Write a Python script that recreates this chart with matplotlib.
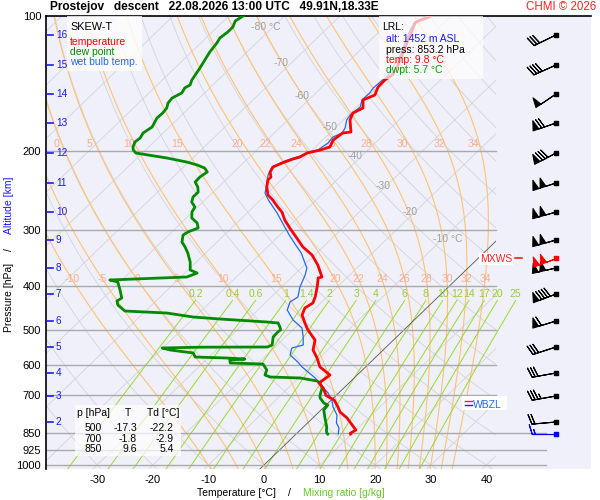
import numpy as np
import matplotlib
matplotlib.use("Agg")
import matplotlib.pyplot as plt
from matplotlib.patches import Rectangle
from matplotlib.lines import Line2D
from matplotlib.ticker import NullLocator

plt.rcParams['font.family'] = ['Liberation Sans', 'DejaVu Sans']

# ---------------- data ----------------
temp_p = [100.0, 101.0, 102.6, 103.6, 106.4, 114.9, 125.3, 129.9, 135.3, 138.9,
          144.0, 150.0, 153.8, 160.3, 164.5, 170.5, 181.3, 182.2, 188.9, 195.8,
          198.9, 201.9, 206.1, 208.2, 212.5, 216.9, 222.5, 228.4, 231.9, 240.3,
          250.4, 256.9, 266.3, 273.3, 284.7, 296.7, 312.2, 327.0, 340.6, 358.5,
          381.3, 383.3, 401.4, 422.4, 435.7, 447.0, 463.3, 482.8, 500.0, 526.8,
          554.5, 577.6, 604.9, 630.3, 646.7, 656.7, 673.7, 700.0, 716.5, 742.7,
          762.0, 786.0, 814.5, 835.7, 850.0, 853.2]
temp_c = [-53.6, -54.0, -55.0, -55.2, -54.6, -52.9, -51.0, -50.2, -49.6, -50.0,
          -49.9, -49.0, -50.2, -48.7, -49.6, -48.8, -46.4, -47.7, -48.1, -47.4,
          -48.6, -50.4, -50.9, -51.8, -53.0, -53.9, -53.5, -52.4, -52.4, -51.3,
          -49.6, -47.8, -45.6, -43.9, -41.9, -39.5, -36.4, -33.6, -30.5, -27.6,
          -24.6, -25.1, -23.6, -22.1, -21.4, -21.9, -21.1, -19.1, -17.3, -14.1,
          -12.6, -10.4, -8.2, -4.9, -5.2, -5.4, -3.7, -1.8, 0.5, 2.5,
          3.8, 6.2, 8.4, 10.0, 9.6, 9.8]

dwpt_p = [100.0, 101.0, 102.6, 105.8, 108.6, 111.9, 114.9, 120.3, 125.3, 130.5,
          138.9, 142.4, 144.6, 148.4, 152.3, 156.3, 160.3, 164.5, 168.7, 176.7,
          182.2, 186.9, 190.8, 195.8, 198.8, 201.9, 207.1, 211.5, 214.7, 218.1,
          222.5, 228.4, 234.3, 240.4, 246.6, 253.0, 259.6, 266.3, 273.2, 281.8,
          289.1, 296.6, 302.8, 307.5, 318.7, 327.0, 337.2, 353.1, 367.9, 373.6,
          381.3, 383.3, 387.2, 391.2, 407.6, 424.7, 431.3, 440.2, 454.0, 458.7,
          468.2, 473.0, 480.3, 482.8, 495.3, 500.0, 505.6, 518.7, 540.4, 546.0,
          546.5, 548.8, 554.5, 563.0, 574.8, 577.7, 580.7, 583.6, 592.7, 595.8,
          614.4, 630.3, 636.8, 640.1, 650.0, 656.7, 673.8, 700.0, 709.2, 727.6,
          735.1, 754.2, 785.8, 822.9, 838.0, 850.0, 853.2]
dwpt_c = [-87.4, -87.6, -87.9, -87.2, -87.2, -87.5, -87.1, -86.7, -86.1, -85.5,
          -84.7, -84.1, -84.5, -84.1, -84.9, -84.7, -84.0, -83.8, -83.9, -83.1,
          -83.6, -83.2, -83.4, -82.8, -82.2, -81.2, -74.7, -70.3, -67.9, -66.0,
          -64.8, -65.2, -65.1, -63.7, -62.7, -62.7, -62.0, -60.5, -60.1, -59.0,
          -57.1, -56.0, -57.1, -57.4, -56.3, -54.8, -53.2, -51.1, -49.6, -47.8,
          -48.9, -53.5, -62.2, -60.4, -58.5, -56.7, -57.0, -56.1, -53.7, -45.8,
          -40.3, -35.1, -26.1, -23.9, -22.6, -22.2, -22.3, -22.2, -20.9, -21.4,
          -33.5, -40.1, -38.3, -33.6, -32.5, -26.6, -23.2, -25.7, -25.1, -19.0,
          -17.2, -16.6, -15.3, -9.7, -6.1, -5.2, -3.9, -2.9, -2.4, -0.8,
          0.3, 0.5, 2.2, 4.2, 4.8, 5.4, 5.7]

wetb_p = [100.0, 103.1, 107.4, 122.1, 136.7, 138.9, 144.6, 148.4, 153.8, 159.4,
          166.1, 170.5, 177.6, 182.2, 186.0, 191.8, 198.8, 200.9, 205.0, 210.4,
          216.9, 226.0, 235.5, 247.8, 256.9, 274.6, 292.0, 307.5, 320.3, 337.2,
          364.1, 377.4, 401.4, 422.5, 433.5, 451.6, 475.4, 495.3, 518.7, 540.4,
          548.8, 568.9, 589.7, 605.0, 620.7, 640.1, 666.9, 691.3, 716.5, 742.7,
          773.8, 806.2, 827.2, 848.7, 853.2]
wetb_c = [-54.0, -55.4, -54.8, -51.9, -50.2, -50.4, -50.6, -50.3, -50.4, -49.4,
          -49.7, -49.4, -48.2, -47.8, -48.7, -48.5, -49.0, -50.2, -51.1, -52.9,
          -54.1, -53.3, -52.0, -50.5, -48.6, -44.6, -41.2, -38.3, -35.9, -32.8,
          -29.0, -28.0, -26.7, -25.2, -25.7, -24.7, -21.8, -18.7, -16.8, -15.3,
          -16.8, -15.8, -13.1, -11.4, -9.4, -7.0, -4.3, -1.9, 0.1, 1.6,
          3.8, 5.2, 6.6, 7.4, 7.6]

alt_km = [2, 3, 4, 5, 6, 7, 8, 9, 10, 11, 12, 13, 14, 15, 16]
alt_p = [802.1, 702.0, 623.9, 546.0, 477.9, 416.1, 364.1, 315.4, 273.3, 235.5,
         201.9, 173.1, 149.2, 128.6, 110.2]
wind_dir = [265, 260, 260, 252, 253, 249, 257, 254, 254, 252, 242, 251, 236, 246, 244]
wind_kt = [20, 35, 30, 30, 60, 90, 100, 100, 100, 100, 80, 70, 50, 40, 30]

mxws_p, mxws_dir, mxws_kt = 346.0, 249, 100
sfc_p, sfc_dir, sfc_kt = 853.2, 270, 15

pressure_ticks = [100, 200, 300, 400, 500, 600, 700, 850, 925, 1000]
temp_ticks = [-30, -20, -10, 0, 10, 20, 30, 40]
isotherm_lbl = [-80, -70, -60, -50, -40, -30, -20, -10]
isotherm_lbl_p = [105.8, 127.3, 150.7, 176.7, 205.0, 239.1, 273.2, 313.8]
theta_w = [-10, -5, 0, 5, 10, 15, 20, 22, 24, 26, 28, 30, 32, 34]
mix_ratio = [0.2, 0.4, 0.6, 1, 1.4, 2, 3, 4, 6, 8, 10, 12, 14, 17, 20, 25]
mix_lbl = ['0.2', '0.4', '0.6', '1', '1.4', '2', '3', '4', '6', '8', '10', '12', '14', '17', '20', '25']

tbl_p = ['500', '700', '850']
tbl_t = ['-17.3', '-1.8', '9.6']
tbl_td = ['-22.2', '-2.9', '5.4']

# ---------------- geometry ----------------
SKEW = 36.33          # degC of x-shift per unit ln(1000/p)
PX_PER_C = 5.56       # pixel width of one degree
X0, X1 = -39.21, 58.81
P_BOT, P_TOP = 1020.7, 100.0
MAIN_FRAC = (496 - 46) / 545.0
EXT_FRAC = (546 - 46) / 545.0
X_MAIN = X0 + MAIN_FRAC * (X1 - X0)


def skx(t, p):
    return np.asarray(t, float) + SKEW * np.log(1000.0 / np.asarray(p, float))


fig = plt.figure(figsize=(6, 5), dpi=100)
ax = fig.add_axes([46 / 600, 31 / 500, 545 / 600, 453 / 500])
ax.set_facecolor('#f0f0fb')
ax.set_yscale('log')
ax.set_xlim(X0, X1)
ax.set_ylim(P_BOT, P_TOP)
for s in ['right', 'bottom']:
    ax.spines[s].set_visible(False)
ax.spines['left'].set_linewidth(1.2)
ax.spines['top'].set_linewidth(1.2)

clip_main = Rectangle((0, 0), MAIN_FRAC, 1, transform=ax.transAxes, visible=False)
clip_ext = Rectangle((0, 0), EXT_FRAC, 1, transform=ax.transAxes, visible=False)
ax.add_patch(clip_main)
ax.add_patch(clip_ext)

pp = np.geomspace(95, 1040, 80)
# isotherms
for t0 in range(-140, 60, 10):
    ln, = ax.plot(skx(t0, pp), pp, color='#d3d3d8' if t0 != 0 else '#555555',
                  lw=0.6, zorder=1 if t0 != 0 else 2)
    ln.set_clip_path(clip_main)
# dry adiabats
for th in range(-50, 220, 10):
    t = (th + 273.15) * (pp / 1000.0) ** 0.2857 - 273.15
    ln, = ax.plot(skx(t, pp), pp, color='#d3d3d8', lw=0.6, zorder=1)
    ln.set_clip_path(clip_main)

# moist adiabats
Rd, Cp, Lv, eps = 287.04, 1005.7, 2.501e6, 0.622


def dTdp(T, p):
    tc = T - 273.15
    e = 6.112 * np.exp(17.67 * tc / (tc + 243.5))
    rs = eps * e / (p - e)
    return (Rd * T + Lv * rs) / (p * (Cp + Lv * Lv * rs * eps / (Rd * T * T)))


def integrate(tw, p_end, n):
    ps = np.linspace(1000.0, p_end, n)
    T = tw + 273.15
    out = [T]
    for i in range(n - 1):
        dp = ps[i + 1] - ps[i]
        k1 = dTdp(T, ps[i])
        k2 = dTdp(T + 0.5 * dp * k1, ps[i] + 0.5 * dp)
        k3 = dTdp(T + 0.5 * dp * k2, ps[i] + 0.5 * dp)
        k4 = dTdp(T + dp * k3, ps[i + 1])
        T = T + dp * (k1 + 2 * k2 + 2 * k3 + k4) / 6.0
        out.append(T)
    return ps, np.array(out) - 273.15


LBL_ROWS = [(193.0, -6.0), (386.0, 0.0)]   # (pressure, x offset in px)
MIN_LBL_X = X0 + 6.0 / PX_PER_C             # keep label centre inside the frame
for tw in theta_w:
    pu, tu = integrate(tw, 95.0, 300)
    pd, td = integrate(tw, 1040.0, 10)
    pm = np.concatenate([pd[::-1], pu[1:]])
    tm = np.concatenate([td[::-1], tu[1:]])
    xm = skx(tm, pm)
    ln, = ax.plot(xm, pm, color='#ffc272', lw=0.8, zorder=1.5)
    ln.set_clip_path(clip_main)
    for lp, off in LBL_ROWS:
        xl = float(np.interp(np.log(lp), np.log(pm[::-1]), xm[::-1]))
        xt = max(xl + off / PX_PER_C, MIN_LBL_X)
        if xl > X0 - 1.0 and xl < X_MAIN - 1.0:
            ax.text(xt, lp, str(tw), color='#ffab8c', fontsize=7.5,
                    ha='center', va='center', zorder=3, clip_on=False)

# mixing ratio lines
pw = np.geomspace(430, 1040, 30)
for w, lbl in zip(mix_ratio, mix_lbl):
    e = w * pw / (622.0 + w)
    a = np.log(e / 6.112)
    t = 243.5 * a / (17.67 - a)
    ln, = ax.plot(skx(t, pw), pw, color='#99d92c', lw=0.7, zorder=1.6)
    ln.set_clip_path(clip_ext)
    ax.text(skx(t[0], pw[0]), 416, lbl, color='#99cc33', fontsize=7.5,
            ha='center', va='center', zorder=3)

# isotherm labels
lbl_off_px = [-22, -18, -18, -14, -14, -11, -12, -10]
for t0, lp, off in zip(isotherm_lbl, isotherm_lbl_p, lbl_off_px):
    s = f"{t0} °C" if t0 in (-80, -10) else f"{t0}"
    ax.text(float(skx(t0, lp)) + off / PX_PER_C, lp, s,
            color='#a0a0a0', fontsize=7.5, ha='left', va='center', zorder=3)

# pressure lines
for p in pressure_ticks[1:]:
    ax.axhline(p, xmin=0, xmax=EXT_FRAC if p >= 850 else MAIN_FRAC,
               color='#a9a9a9', lw=1.0, zorder=2)

# profiles
ax.plot(skx(wetb_c, wetb_p), wetb_p, color='#2468f0', lw=0.9, zorder=4)
ax.plot(skx(dwpt_c, dwpt_p), dwpt_p, color='#008a00', lw=2.0, zorder=5,
        solid_joinstyle='round')
ax.plot(skx(temp_c, temp_p), temp_p, color='#ff0000', lw=2.0, zorder=5,
        solid_joinstyle='round')

# ticks
ax.set_yticks(pressure_ticks)
ax.set_yticklabels([str(p) for p in pressure_ticks])
ax.yaxis.set_minor_locator(NullLocator())
ax.set_xticks(temp_ticks)
ax.set_xticklabels([str(t) for t in temp_ticks])
ax.tick_params(axis='y', length=0, pad=3.5, labelsize=8)
ax.tick_params(axis='x', length=0, pad=4, labelsize=8)

# altitude ticks
ytr = ax.get_yaxis_transform()
for km, p in zip(alt_km, alt_p):
    ax.plot([0.002, 0.013], [p, p], color='#1a1aff', lw=1.2, transform=ytr,
            zorder=6, clip_on=False)
    ax.text(0.018, p, str(km), color='#1a1aff', fontsize=7.2, ha='left',
            va='center', transform=ytr, zorder=6)

# wind barbs
XB = X0 + (556 - 46) / 545.0 * (X1 - X0)


def uv(d, s):
    r = np.deg2rad(np.asarray(d, float))
    s = np.asarray(s, float)
    return -s * np.sin(r), -s * np.cos(r)


u, v = uv(wind_dir, wind_kt)
bk = dict(length=5.9, linewidth=0.8, clip_on=False, zorder=6)
ax.barbs(np.full(len(alt_p), XB), alt_p, u, v, barbcolor='black', flagcolor='black', **bk)
u, v = uv([mxws_dir], [mxws_kt])
ax.barbs([XB], [mxws_p], u, v, barbcolor='red', flagcolor='red', **bk)
u, v = uv([sfc_dir], [sfc_kt])
ax.barbs([XB], [sfc_p], u, v, barbcolor='#0000ee', flagcolor='#0000ee', **bk)
ax.scatter(np.full(len(alt_p), XB), alt_p, s=6, marker='s', color='black', zorder=7, clip_on=False)
ax.scatter([XB], [mxws_p], s=6, marker='s', color='red', zorder=7, clip_on=False)
ax.scatter([XB], [sfc_p], s=6, marker='s', color='#0000ee', zorder=7, clip_on=False)


# ---------------- figure-level annotation ----------------
def F(x, y):
    return x / 600.0, 1 - y / 500.0


def box(x0, y0, x1, y1, alpha):
    fx, fy = F(x0, y1)
    fig.add_artist(Rectangle((fx, fy), (x1 - x0) / 600.0, (y1 - y0) / 500.0,
                             transform=fig.transFigure, facecolor='white',
                             edgecolor='none', alpha=alpha, zorder=3))


def txt(x, y, s, **kw):
    kw.setdefault('fontsize', 7.5)
    kw.setdefault('va', 'center')
    kw.setdefault('zorder', 4)
    fig.text(*F(x, y), s, **kw)


# title
txt(50, 7, "Prostejov   descent   22.08.2026 13:00 UTC   49.91N,18.33E",
    fontsize=8.6, fontweight='bold')
txt(596, 7, "CHMI © 2026", color='#ff2020', fontsize=8.3, ha='right')

# legend box
box(67, 16, 142, 71, 0.8)
txt(70, 27, "SKEW-T", fontsize=7.8)
txt(70, 42, "temperature", color='#ff0000')
txt(70, 52, "dew point", color='#008a00')
txt(70, 62, "wet bulb temp.", color='#2468f0')

# LRL box
box(379, 16, 483, 79, 0.7)
txt(382, 27, "LRL:")
txt(386, 39, "alt: 1452 m ASL", color='#1a1aff')
txt(386, 50, "press: 853.2 hPa")
txt(386, 60, "temp: 9.8 °C", color='#ff0000')
txt(386, 70, "dwpt: 5.7 °C", color='#00a000')

# value table
box(75, 405, 181, 456, 0.7)
txt(77, 413, "p [hPa]")
txt(128, 413, "T", ha='center')
txt(147, 413, "Td [°C]")
for i, (a, b, c) in enumerate(zip(tbl_p, tbl_t, tbl_td)):
    yy = 428 + i * 10.5
    txt(102, yy, a, ha='right')
    txt(137, yy, b, ha='right')
    txt(174, yy, c, ha='right')

# MXWS label
txt(512, 259, "MXWS", color='#ff2020', ha='right',
    bbox=dict(facecolor='white', edgecolor='none', pad=0.6))
fig.add_artist(Line2D([F(515, 0)[0], F(522, 0)[0]], [F(0, 258)[1]] * 2,
                      color='#ff2020', lw=1.2, zorder=4))

# WBZL label
box(462, 396, 507, 410, 1.0)
fig.add_artist(Line2D([F(465, 0)[0], F(472, 0)[0]], [F(0, 401)[1]] * 2,
                      color='#ff2020', lw=1.0, zorder=4))
fig.add_artist(Line2D([F(465, 0)[0], F(472, 0)[0]], [F(0, 405)[1]] * 2,
                      color='#1a1aff', lw=1.0, zorder=4))
txt(473, 405, "WBZL", color='#2468f0')

# axis titles
txt(9, 297, "Pressure [hPa]", rotation=90, ha='center')
txt(9, 250, "/", rotation=90, ha='center')
txt(9, 205, "Altitude [km]", rotation=90, ha='center', color='#1a1aff')
txt(197, 493, "Temperature [°C]", ha='left')
txt(289, 493, "/", ha='center')
txt(303, 493, "Mixing ratio [g/kg]", ha='left', color='#66cc22')

fig.savefig("out.png", dpi=100)
